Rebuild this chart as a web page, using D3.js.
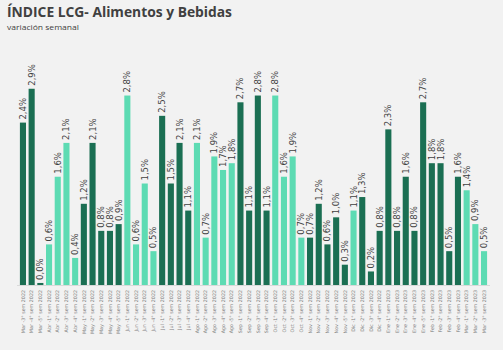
<!DOCTYPE html>
<html>
<head>
<meta charset="utf-8">
<script src="https://cdn.jsdelivr.net/npm/d3@7"></script>
<style>
  body { margin: 0; background: #f2f2f2; }
  svg { display: block; }
</style>
</head>
<body>
<script>
// semanas (meses) y variacion semanal en %
var meses = ["Mar", "Mar", "Mar", "Abr", "Abr", "Abr", "Abr", "May", "May", "May", "May", "May",
    "Jun", "Jun", "Jun", "Jun", "Jul", "Jul", "Jul", "Jul", "Ago", "Ago", "Ago", "Ago", "Ago",
    "Sep", "Sep", "Sep", "Sep", "Oct", "Oct", "Oct", "Oct", "Nov", "Nov", "Nov", "Nov", "Nov",
    "Dic", "Dic", "Dic", "Dic", "Ene", "Ene", "Ene", "Ene", "Ene", "Feb", "Feb", "Feb", "Feb",
    "Mar", "Mar", "Mar"];
var semanas = [3, 4, 5, 1, 2, 3, 4, 1, 2, 3, 4, 5, 1, 2, 3, 4, 1, 2, 3, 4, 1, 2, 3, 4, 5,
    1, 2, 3, 4, 1, 2, 3, 4, 1, 2, 3, 4, 5, 1, 2, 3, 4, 1, 2, 3, 4, 5, 1, 2, 3, 4, 1, 2, 3];
var anios = [2022, 2022, 2022, 2022, 2022, 2022, 2022, 2022, 2022, 2022, 2022, 2022, 2022, 2022,
    2022, 2022, 2022, 2022, 2022, 2022, 2022, 2022, 2022, 2022, 2022, 2022, 2022, 2022, 2022,
    2022, 2022, 2022, 2022, 2022, 2022, 2022, 2022, 2022, 2022, 2022, 2022, 2022, 2023, 2023,
    2023, 2023, 2023, 2023, 2023, 2023, 2023, 2023, 2023, 2023];
var valores = [2.4, 2.9, 0.03, 0.6, 1.6, 2.1, 0.4, 1.2, 2.1, 0.8, 0.8, 0.9, 2.8, 0.6, 1.5, 0.5,
    2.5, 1.5, 2.1, 1.1, 2.1, 0.7, 1.9, 1.7, 1.8, 2.7, 1.1, 2.8, 1.1, 2.8, 1.6, 1.9, 0.7,
    0.7, 1.2, 0.6, 1.0, 0.3, 1.1, 1.3, 0.2, 0.8, 2.3, 0.8, 1.6, 0.8, 2.7, 1.8, 1.8, 0.5,
    1.6, 1.4, 0.9, 0.5];
// grupo de color (0 = verde oscuro, 1 = verde claro)
var grupos = [0, 0, 0, 1, 1, 1, 1, 0, 0, 0, 0, 0, 1, 1, 1, 1, 0, 0, 0, 0, 1, 1, 1, 1, 1,
    0, 0, 0, 0, 1, 1, 1, 1, 0, 0, 0, 0, 0, 1, 0, 0, 0, 0, 0, 0, 0, 0, 0, 0, 0, 0, 1, 1, 1];

function draw() {
    var w = 503;
    var h = 350;
    var svg = d3.select("body")
        .append("svg")
        .attr("width", w)
        .attr("height", h);

    svg.append("rect").attr("width", w).attr("height", h).attr("fill", "#f2f2f2");

    // titulo
    svg.append("text")
        .attr("x", 7).attr("y", 17)
        .attr("font-family", "Open Sans")
        .attr("font-weight", "bold")
        .attr("font-size", 14.5)
        .attr("fill", "#404040")
        .attr("textLength", 225)
        .attr("lengthAdjust", "spacingAndGlyphs")
        .text("ÍNDICE LCG- Alimentos y Bebidas");
    svg.append("text")
        .attr("x", 7).attr("y", 30)
        .attr("font-family", "Open Sans")
        .attr("font-size", 8)
        .attr("fill", "#404040")
        .attr("textLength", 72)
        .attr("lengthAdjust", "spacingAndGlyphs")
        .text("variación semanal");

    var etiquetas = valores.map(function(v, i) {
        return meses[i] + " -" + semanas[i] + "° sem " + anios[i];
    });

    var x = d3.scaleBand()
        .domain(d3.range(valores.length))
        .range([18.6, 488.4])
        .paddingInner(0.3)
        .paddingOuter(0.15);
    var y = d3.scaleLinear()
        .domain([0, 3])
        .range([285, 82]);
    var color = d3.scaleOrdinal([0, 1], ["#1b6f53", "#5ddbb3"]);

    // linea base
    svg.append("line")
        .attr("x1", 17).attr("x2", 490)
        .attr("y1", y(0) + 0.5).attr("y2", y(0) + 0.5)
        .attr("stroke", "#d9d9d9");

    var barras = svg.selectAll("g.barra")
        .data(valores)
        .enter()
        .append("g")
        .attr("class", "barra");

    barras.append("rect")
        .attr("x", function(d, i) { return x(i); })
        .attr("y", function(d) { return y(d); })
        .attr("width", x.bandwidth())
        .attr("height", function(d) { return y(0) - y(d); })
        .attr("fill", function(d, i) { return color(grupos[i]); });

    var fmt = d3.format(".1f");
    barras.append("text")
        .text(function(d) { return fmt(d).replace(".", ",") + "%"; })
        .attr("font-family", "DejaVu Sans")
        .attr("font-size", 8.5)
        .attr("fill", "#404040")
        .attr("transform", function(d, i) {
            return "translate(" + (x(i) + x.bandwidth() / 2 + 3) + "," + (y(d) - 3) + ") rotate(-90)";
        });

    // ejes x
    svg.selectAll("text.eje")
        .data(etiquetas)
        .enter()
        .append("text")
        .attr("class", "eje")
        .text(function(d) { return d; })
        .attr("font-family", "DejaVu Sans")
        .attr("font-size", 4.8)
        .attr("fill", "#808080")
        .attr("text-anchor", "end")
        .attr("transform", function(d, i) {
            return "translate(" + (x(i) + x.bandwidth() / 2 + 1.7) + ",290) rotate(-90)";
        });
}

window.onload = draw;
</script>
</body>
</html>
